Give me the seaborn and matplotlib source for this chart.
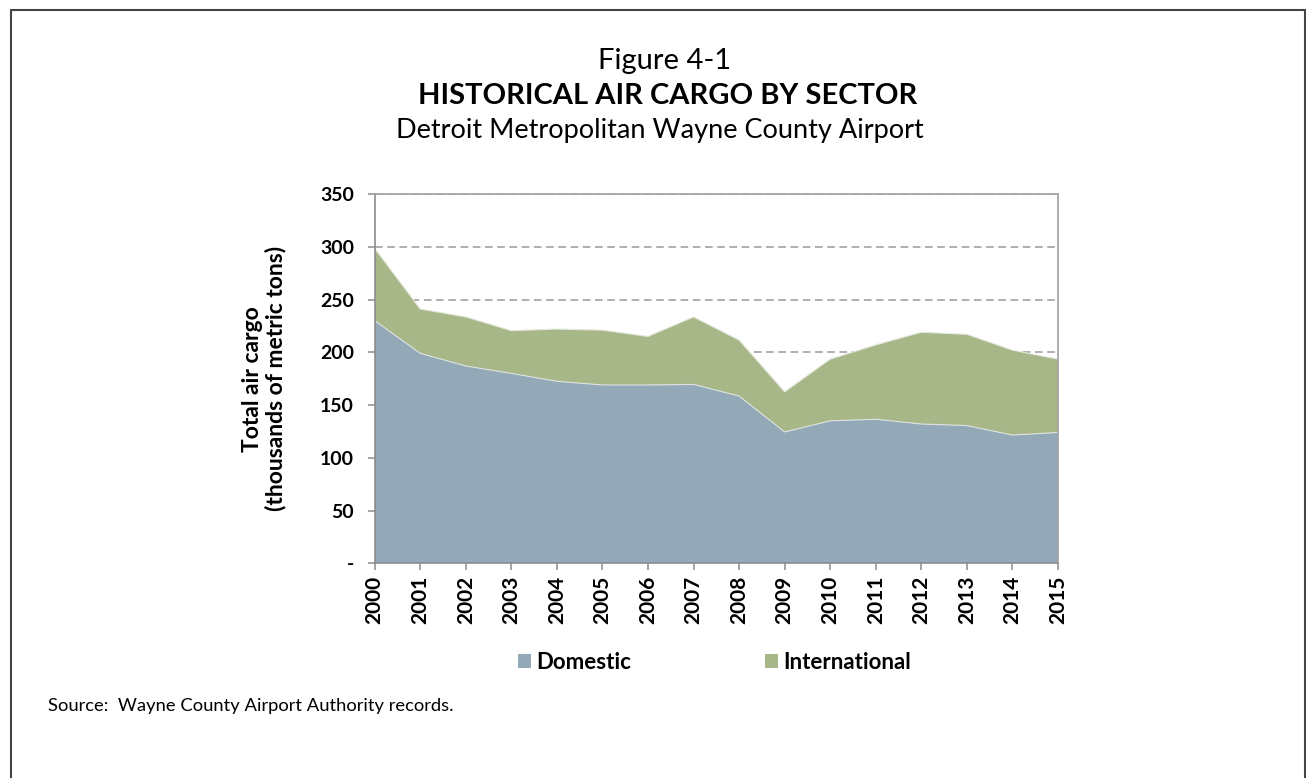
import numpy as np
import pandas as pd
import seaborn as sns
import matplotlib.pyplot as plt
from matplotlib.patches import Patch
from matplotlib.lines import Line2D

years = list(range(2000, 2016))
domestic = [230, 199, 187, 180, 172.5, 169, 169, 169.5, 158.5, 124.5, 135, 136.5, 132, 130.5, 121.5, 124]
international = [68.5, 42, 46.5, 40.5, 49.5, 52, 46, 64, 53, 38, 58.5, 70.5, 87, 86.5, 80.5, 69.5]
y_ticks = [0, 50, 100, 150, 200, 250, 300, 350]
y_ticklabels = ['-', '50', '100', '150', '200', '250', '300', '350']

sns.set_theme(style='white')
plt.rcParams['font.family'] = ['Lato', 'DejaVu Sans']
plt.rcParams['text.color'] = 'black'
plt.rcParams['axes.labelcolor'] = 'black'

col_dom = '#93A9B8'
col_int = '#A8B788'

data = pd.DataFrame({'Year': years, 'Domestic': domestic, 'International': international})
data['Total'] = data['Domestic'] + data['International']

fig = plt.figure(figsize=(13.06, 7.78), dpi=100)
ax = fig.add_axes([0.2869, 0.276, 0.8101 - 0.2869, 0.7506 - 0.276])

# grid behind areas
for v in y_ticks[1:]:
    ax.axhline(v, color='#9A9A9A', lw=1.1, ls=(0, (5, 3)), zorder=0)

ax.stackplot(data['Year'], data['Domestic'], data['International'],
             colors=[col_dom, col_int], edgecolor='none', zorder=1)
sns.lineplot(data=data, x='Year', y='Domestic', color='#DDE3E0', lw=0.8, ax=ax, zorder=2)
sns.lineplot(data=data, x='Year', y='Total', color='#E4E8DC', lw=0.8, ax=ax, zorder=2)

ax.set_xlim(2000, 2015)
ax.set_ylim(0, 350)
ax.set_xticks(years)
ax.set_xticklabels([str(y) for y in years], rotation=90, fontsize=15, fontweight='bold')
ax.set_yticks(y_ticks)
ax.set_yticklabels(y_ticklabels, fontsize=14, fontweight='bold')
ax.tick_params(axis='both', which='major', length=5, width=1.1, color='#8C8C8C',
               direction='out', bottom=True, left=True, pad=4, labelcolor='black')
ax.tick_params(axis='y', pad=10)
for s in ax.spines.values():
    s.set_color('#A0A0A0')
    s.set_linewidth(1.2)
ax.spines['left'].set_color('#8C8C8C')
ax.spines['bottom'].set_color('#8C8C8C')
ax.set_xlabel('')
ax.set_ylabel('Total air cargo\n(thousands of metric tons)', fontsize=16.5, fontweight='bold',
              labelpad=24, linespacing=1.1)

# titles
fig.text(0.509, 0.922, 'Figure 4-1', ha='center', va='center', fontsize=21)
fig.text(0.511, 0.877, 'HISTORICAL AIR CARGO BY SECTOR', ha='center', va='center',
         fontsize=21, fontweight='bold')
fig.text(0.505, 0.832, 'Detroit Metropolitan Wayne County Airport', ha='center', va='center',
         fontsize=19.5)

# legend
handles = [Patch(facecolor=col_dom, edgecolor='none'), Patch(facecolor=col_int, edgecolor='none')]
fig.legend(handles, ['Domestic', 'International'], loc='center', bbox_to_anchor=(0.547, 0.149),
           ncol=2, frameon=False, prop={'weight': 'bold', 'size': 16},
           handlelength=0.6, handleheight=0.6, handletextpad=0.25, columnspacing=6.0)

fig.text(0.037, 0.093, 'Source:  Wayne County Airport Authority records.', ha='left', va='center',
         fontsize=13.2)

# page border (left, top, right)
fig.add_artist(Line2D([11 / 1306, 11 / 1306], [0, 1 - 10 / 778], color='#444444', lw=1.5,
                      transform=fig.transFigure))
fig.add_artist(Line2D([11 / 1306, 1305 / 1306], [1 - 10 / 778, 1 - 10 / 778], color='#444444',
                      lw=1.5, transform=fig.transFigure))
fig.add_artist(Line2D([1305 / 1306, 1305 / 1306], [0, 1 - 10 / 778], color='#444444', lw=1.5,
                      transform=fig.transFigure))

fig.savefig('out.png', dpi=100)
